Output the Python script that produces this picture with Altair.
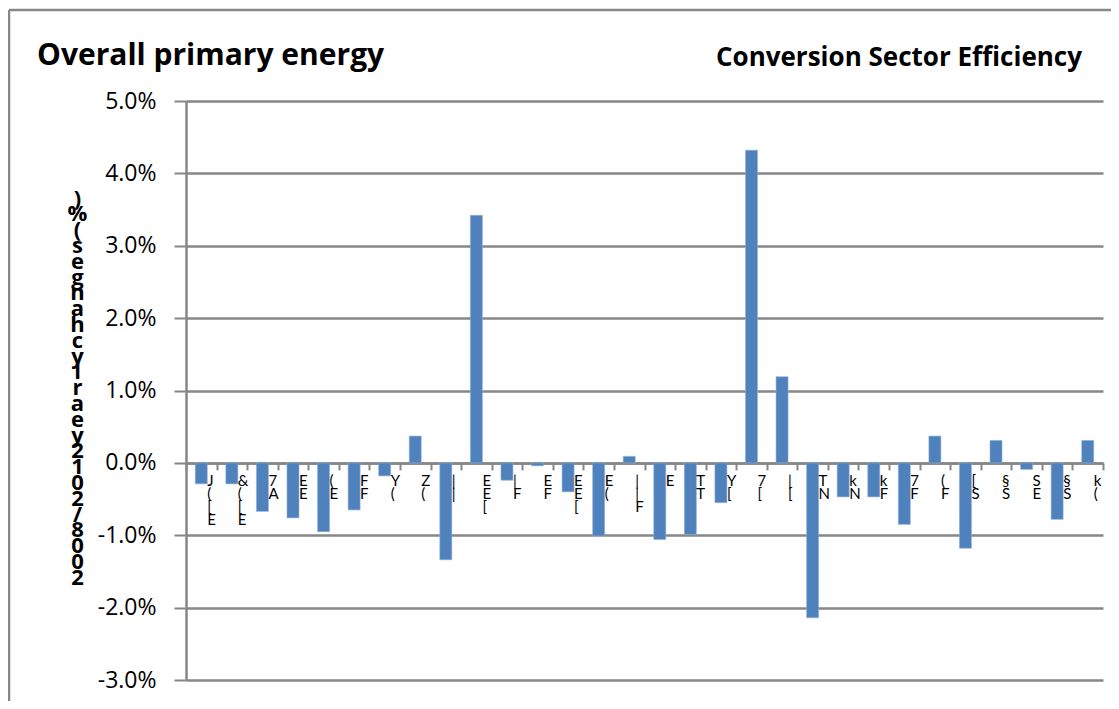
import altair as alt
import pandas as pd

# ---- data ----
values_pct = [-0.29, -0.29, -0.67, -0.76, -0.95, -0.65, -0.18, 0.37, -1.34, 3.42,
              -0.24, -0.04, -0.40, -1.01, 0.09, -1.06, -0.99, -0.55, 4.32, 1.19,
              -2.14, -0.47, -0.47, -0.85, 0.37, -1.18, 0.31, -0.09, -0.78, 0.31]
# category labels are clipped in the original; visible fragments only
labels = ["J\n(\n[\nE", "&\n(\n[\nE", "7\nA", "E\nE", "(\nE", "F\nF", "Y\n(", "Z\n(", "|\n|", "E\nE\n[",
          "|\nF", "E\nF", "E\nE\n[", "E\n(", "|\n|\nF", "E", "T\nT", "Y\n[", "7\n[", "|\n[",
          "T\nN", "k\nN", "k\nF", "7\nF", "(\nF", "[\nS", "§\nS", "S\nE", "§\nS", "k\n("]
y_ticks = [-0.03, -0.02, -0.01, 0.0, 0.01, 0.02, 0.03, 0.04, 0.05]
y_title = "2008/2012 yearly changes (%)"
title_left = "Overall primary energy"
title_right = "Conversion Sector Efficiency"

df = pd.DataFrame({
    "i": list(range(1, len(values_pct) + 1)),
    "v": [v / 100 for v in values_pct],
    "lab": labels,
})

W, H = 917, 579
FONT = "Open Sans"
GRAY = "#878787"
BLUE = "#4F81BD"

x_enc = alt.X(
    "i:O",
    scale=alt.Scale(paddingInner=0, paddingOuter=0),
    axis=alt.Axis(
        title=None, labels=False, grid=False,
        domain=True, domainColor=GRAY, domainWidth=2.5,
        ticks=True, tickColor=GRAY, tickWidth=2, tickSize=7, tickBand="extent",
        offset=-(H * 3 / 8),
    ),
)
y_enc = alt.Y(
    "v:Q",
    scale=alt.Scale(domain=[-0.03, 0.05], nice=False, zero=False),
    axis=alt.Axis(
        values=y_ticks,
        labelExpr="(datum.value < 0 ? '-' : '') + format(abs(datum.value), '.1%')",
        labelFont=FONT, labelFontSize=23, labelColor="black", labelPadding=18,
        grid=True, gridColor=GRAY, gridWidth=2.5,
        domain=True, domainColor=GRAY, domainWidth=2.5,
        ticks=True, tickColor=GRAY, tickWidth=2, tickSize=12,
        title=list(y_title[::-1]), titleAngle=0, titleFont=FONT, titleFontSize=22,
        titleFontWeight="bold", titleColor="black", titleLineHeight=15.8,
        titleX=-109, titleY=87, titleAlign="center", titleBaseline="top",
    ),
)

bars = alt.Chart(df).mark_bar(width=12, color=BLUE, stroke="#8FB0DA", strokeWidth=0.6).encode(
    x=x_enc, y=y_enc
)

cat_labels = alt.Chart(df).mark_text(
    align="left", baseline="top", dx=6, dy=11, lineBreak="\n", lineHeight=13,
    font="Lato", fontSize=15, color="black"
).encode(x="i:O", y=alt.datum(0), text="lab:N")

t_left = alt.Chart(pd.DataFrame({"t": [title_left]})).mark_text(
    align="left", baseline="alphabetic", font=FONT, fontSize=30, fontWeight="bold", color="black"
).encode(x=alt.value(-149), y=alt.value(-36), text="t:N")

t_right = alt.Chart(pd.DataFrame({"t": [title_right]})).mark_text(
    align="right", baseline="alphabetic", font=FONT, fontSize=26, fontWeight="bold", color="black"
).encode(x=alt.value(1082 - 186), y=alt.value(-35), text="t:N")

frame_src = pd.DataFrame({"a": [0]})
frame_top = alt.Chart(frame_src).mark_rule(color=GRAY, strokeWidth=2.5).encode(
    x=alt.value(-177), x2=alt.value(925), y=alt.value(-91)
)
frame_left = alt.Chart(frame_src).mark_rule(color=GRAY, strokeWidth=2.5).encode(
    x=alt.value(-177), y=alt.value(-91), y2=alt.value(600)
)

chart = alt.layer(frame_top, frame_left, bars, cat_labels, t_left, t_right).properties(
    width=W, height=H,
    autosize=alt.AutoSizeParams(type="none"),
    padding={"left": 178, "top": 93, "right": 8, "bottom": 21},
).configure_view(strokeWidth=0)

chart.save("out.html", embed_options={"renderer": "svg", "actions": False})
